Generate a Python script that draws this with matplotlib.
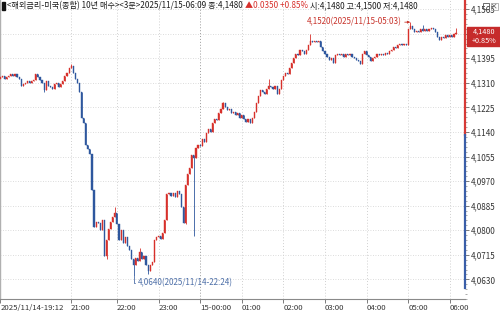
import matplotlib
matplotlib.use('Agg')
import matplotlib.pyplot as plt
from matplotlib.patches import Rectangle
from matplotlib.lines import Line2D
import numpy as np

FONT = ['Noto Sans CJK KR', 'DejaVu Sans']
plt.rcParams['font.family'] = FONT

# ---------------- data (3-minute candles, 2025/11/14 19:12 -> 2025/11/15 06:09) ----------------
closes = [
    4.1330, 4.1335, 4.1325, 4.1330, 4.1335, 4.1340, 4.1335, 4.1340, 4.1330, 4.1325,
    4.1300, 4.1305, 4.1310, 4.1315, 4.1310, 4.1315, 4.1320, 4.1340, 4.1330, 4.1320,
    4.1310, 4.1285, 4.1315, 4.1300, 4.1295, 4.1290, 4.1305, 4.1310, 4.1295, 4.1305,
    4.1315, 4.1335, 4.1345, 4.1360, 4.1370, 4.1345, 4.1325, 4.1310, 4.1280, 4.1190,
    4.1170, 4.1095, 4.1080, 4.1065, 4.0940, 4.0810, 4.0830, 4.0825, 4.0800, 4.0835,
    4.0710, 4.0765, 4.0805, 4.0830, 4.0845, 4.0860, 4.0820, 4.0765, 4.0800, 4.0755,
    4.0775, 4.0745, 4.0730, 4.0700, 4.0680, 4.0705, 4.0695, 4.0725, 4.0700, 4.0710,
    4.0680, 4.0660, 4.0680, 4.0690, 4.0765, 4.0775, 4.0780, 4.0770, 4.0790, 4.0835,
    4.0925, 4.0930, 4.0920, 4.0930, 4.0915, 4.0935, 4.0925, 4.0880, 4.0825, 4.0955,
    4.0995, 4.1015, 4.1060, 4.1050, 4.1085, 4.1095, 4.1090, 4.1115, 4.1105, 4.1135,
    4.1150, 4.1140, 4.1170, 4.1185, 4.1180, 4.1205, 4.1220, 4.1240, 4.1225, 4.1215,
    4.1220, 4.1205, 4.1210, 4.1200, 4.1205, 4.1190, 4.1200, 4.1185, 4.1175, 4.1185,
    4.1170, 4.1190, 4.1210, 4.1240, 4.1265, 4.1285, 4.1280, 4.1270, 4.1290, 4.1300,
    4.1295, 4.1290, 4.1300, 4.1270, 4.1290, 4.1320, 4.1335, 4.1345, 4.1340, 4.1360,
    4.1380, 4.1395, 4.1410, 4.1405, 4.1425, 4.1420, 4.1410, 4.1425, 4.1440, 4.1455,
    4.1450, 4.1455, 4.1450, 4.1455, 4.1435, 4.1420, 4.1410, 4.1400, 4.1390, 4.1395,
    4.1380, 4.1405, 4.1410, 4.1405, 4.1410, 4.1400, 4.1410, 4.1405, 4.1410, 4.1400,
    4.1395, 4.1390, 4.1385, 4.1375, 4.1410, 4.1420, 4.1405, 4.1400, 4.1385, 4.1395,
    4.1400, 4.1410, 4.1405, 4.1410, 4.1405, 4.1415, 4.1410, 4.1420, 4.1425, 4.1435,
    4.1430, 4.1440, 4.1445, 4.1440, 4.1445, 4.1440, 4.1495, 4.1505, 4.1495, 4.1485,
    4.1490, 4.1485, 4.1495, 4.1490, 4.1495, 4.1490, 4.1495, 4.1500, 4.1495, 4.1485,
    4.1470, 4.1460, 4.1470, 4.1465, 4.1475, 4.1470, 4.1475, 4.1470, 4.1480, 4.1480,
]
first_open = 4.1325
wick_highs = {34: 4.1375, 55: 4.0880, 67: 4.0740, 107: 4.1245, 129: 4.1325,
              149: 4.1480, 197: 4.1520, 203: 4.1510, 219: 4.1500}
wick_lows = {21: 4.1280, 51: 4.0700, 64: 4.0640, 71: 4.0650, 89: 4.0820, 93: 4.0780}
prev_close = 4.1130

ytick_vals = [4.0630, 4.0715, 4.0800, 4.0885, 4.0970, 4.1055, 4.1140,
              4.1225, 4.1310, 4.1395, 4.1480, 4.1565]
# the 4,1480 label sits under the current-price tag, so it is not shown
ytick_labels = ['4,0630', '4,0715', '4,0800', '4,0885', '4,0970', '4,1055', '4,1140',
                '4,1225', '4,1310', '4,1395', '', '4,1565']
xtick_idx = [0, 34, 56, 76, 96, 116, 136, 156, 176, 196, 216]
xtick_labels = ['2025/11/14-19:12', '21:00', '22:00', '23:00', '15-00:00', '01:00',
                '02:00', '03:00', '04:00', '05:00', '06:00']

title_a = '<해외금리-미국(종합) 10년 매수><3분>2025/11/15-06:09 종:4,1480 '
title_b = '▲0.0350 +0.85% '
title_c = '시:4,1480 고:4,1500 저:4,1480'
hi_label = '4,1520(2025/11/15-05:03)'
lo_label = '4,0640(2025/11/14-22:24)'
tag_price = '4,1480'
tag_change = '+0.85%'

# ---------------- derived ----------------
n = len(closes)
idx = np.arange(n)
c = np.array(closes)
o = np.array([first_open] + closes[:-1])
h = np.maximum(o, c)
l = np.minimum(o, c)
for k, v in wick_highs.items():
    h[k] = max(h[k], v)
for k, v in wick_lows.items():
    l[k] = min(l[k], v)

RED = '#d7302b'
BLUE = '#2e579e'
cols = [RED if cc >= oo else BLUE for oo, cc in zip(o, c)]

W, H = 500, 314
fig = plt.figure(figsize=(W / 100, H / 100), dpi=100)
ax = fig.add_axes([0, 15 / H, 465 / W, 1 - 15 / H])

ymin, ymax = 4.0600, 4.15967
ax.set_ylim(ymin, ymax)
ax.set_xlim(-0.2, 223.3)

# grid
for yv in ytick_vals:
    ax.axhline(yv, color='#d0d0d0', lw=0.6, ls=(0, (1, 2)), zorder=0)
for xi in xtick_idx[1:]:
    col = '#9a9a9a' if xi == 96 else '#d0d0d0'
    ax.axvline(xi, color=col, lw=0.7, ls=(0, (1, 2)), zorder=0)

# candles
ax.vlines(idx, l, h, colors=cols, lw=0.6, zorder=2)
body = np.maximum(np.abs(c - o), 0.00025)
ax.bar(idx, body, bottom=np.minimum(o, c), width=0.55,
       color=cols, edgecolor=cols, lw=0.3, zorder=3)

# annotations
ihi = int(np.argmax(h))
ilo = int(np.argmin(l))
ax.annotate(hi_label, xy=(ihi, h[ihi]), xytext=(-6, 0), textcoords='offset points',
            ha='right', va='center', fontsize=5.8, color='#c8342c',
            arrowprops=dict(arrowstyle='-|>,head_length=0.25,head_width=0.12',
                            color='#c8342c', lw=0.6, shrinkA=0, shrinkB=0))
ax.annotate(lo_label, xy=(ilo, l[ilo]), xytext=(3, -4.5), textcoords='offset points',
            ha='left', va='center', fontsize=5.8, color='#4d6fa8',
            arrowprops=dict(arrowstyle='-', color='#4d6fa8', lw=0.6,
                            connectionstyle='angle,angleA=0,angleB=90,rad=0',
                            shrinkA=0, shrinkB=0))

# axes styling
for s in ['top', 'right']:
    ax.spines[s].set_visible(False)
ax.spines['left'].set_color('#b0b0b0')
ax.spines['left'].set_linewidth(1.0)
ax.spines['bottom'].set_color('#8a8a8a')
ax.spines['bottom'].set_linewidth(0.8)

tr = ax.get_yaxis_transform()
ax.plot([1, 1], [prev_close, ymax], color='#d63a36', lw=1.6, transform=tr, clip_on=False, zorder=5)
ax.plot([1, 1], [ymin, prev_close], color='#3a5ea8', lw=1.6, transform=tr, clip_on=False, zorder=5)

ax.yaxis.tick_right()
ax.set_yticks(ytick_vals)
ax.set_yticklabels(ytick_labels)
ax.set_yticks(np.arange(ytick_vals[0] - 0.0068, ymax, 0.0017), minor=True)
ax.tick_params(axis='y', which='major', length=3, width=0.6, color='#666666',
               pad=1, labelsize=5.8, labelcolor='#333333')
ax.tick_params(axis='y', which='minor', length=1.5, width=0.5, color='#888888')

ax.set_xticks(xtick_idx)
ax.set_xticklabels(xtick_labels)
ax.tick_params(axis='x', length=3, width=0.6, color='#666666', pad=0.5,
               labelsize=5.6, labelcolor='#333333')
for lbl in ax.get_xticklabels():
    lbl.set_horizontalalignment('left')

# title
fig.patches.append(Rectangle((2 / W, 1 - 10 / H), 2.5 / W, 8 / H, transform=fig.transFigure,
                             color='#111111', zorder=10))
fig.canvas.draw()
r = fig.canvas.get_renderer()
xpos = 7
for s, colr in [(title_a, '#1a1a1a'), (title_b, '#d7302b'), (title_c, '#1a1a1a')]:
    t = fig.text(xpos / W, 1 - 5.5 / H, s, color=colr, fontsize=5.85, ha='left', va='center')
    bb = t.get_window_extent(r)
    xpos = bb.x1

# price tag
fig.patches.append(Rectangle((467 / W, 1 - 46 / H), 33 / W, 19 / H, transform=fig.transFigure,
                             color='#c62b2b', zorder=10))
fig.text(484 / W, 1 - 32 / H, tag_price, color='white', fontsize=5.2, ha='center',
         va='center', zorder=11)
fig.text(484 / W, 1 - 41 / H, tag_change, color='white', fontsize=5.2, ha='center',
         va='center', zorder=11)

# window icons (drawn as shapes)
fig.patches.append(Rectangle((483 / W, 1 - 9 / H), 6 / W, 6 / H, transform=fig.transFigure,
                             fill=False, edgecolor='#555555', lw=0.6, zorder=10))
fig.patches.append(Rectangle((490.5 / W, 1 - 9.5 / H), 7 / W, 7 / H, transform=fig.transFigure,
                             fill=False, edgecolor='#999999', lw=0.5, zorder=10))
fig.lines.append(Line2D([492 / W, 496 / W], [1 - 8 / H, 1 - 4 / H], transform=fig.transFigure,
                        color='#777777', lw=0.6))
fig.lines.append(Line2D([492 / W, 496 / W], [1 - 4 / H, 1 - 8 / H], transform=fig.transFigure,
                        color='#777777', lw=0.6))

fig.savefig('out.png', dpi=100)
